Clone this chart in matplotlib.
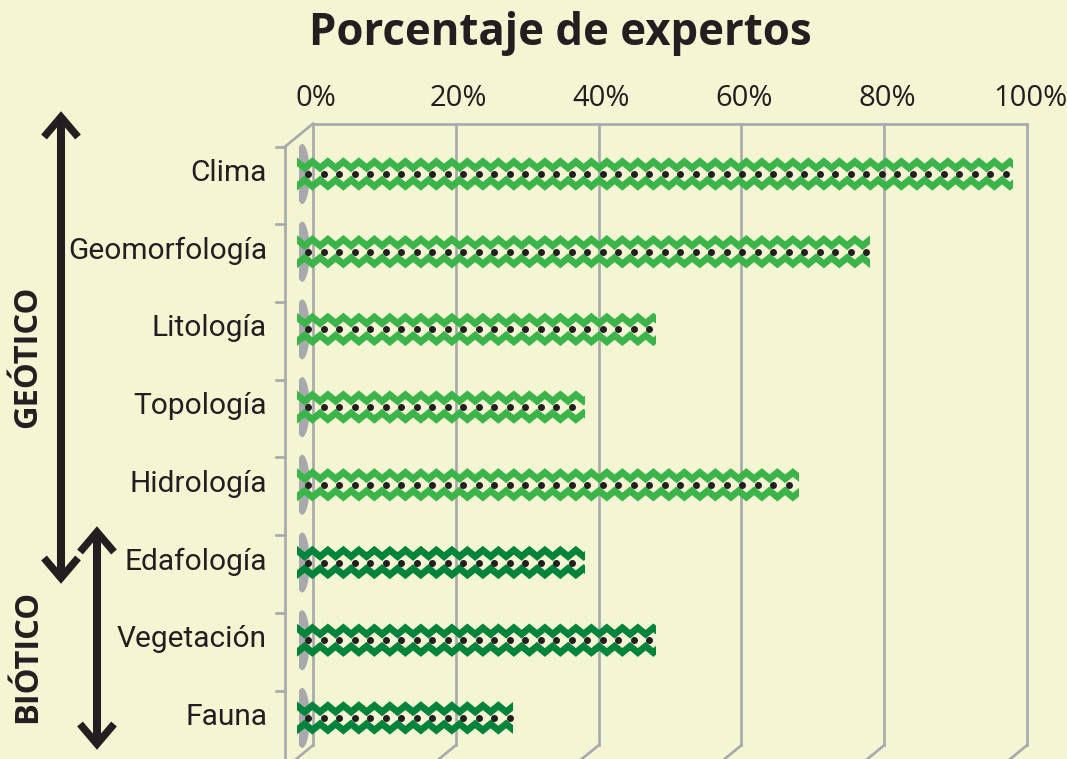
import numpy as np
import matplotlib
matplotlib.use("Agg")
import matplotlib.pyplot as plt
from matplotlib.patches import Ellipse, Rectangle
from matplotlib.transforms import offset_copy

# datos
categorias = ["Clima", "Geomorfología", "Litología", "Topología", "Hidrología",
              "Edafología", "Vegetación", "Fauna"]
porcentajes = [100, 80, 50, 40, 70, 40, 50, 30]
grupo = ["geo", "geo", "geo", "geo", "geo", "bio", "bio", "bio"]
ticks = [0, 20, 40, 60, 80, 100]
tick_labels = ["0%", "20%", "40%", "60%", "80%", "100%"]

BG = "#f4f5d3"
GRIS = "#a7a9ac"
TXT = "#231f20"
colores = {"geo": "#3bb54a", "bio": "#00843b"}

W, H = 1067, 759
fig = plt.figure(figsize=(W / 100, H / 100), dpi=100, facecolor=BG)

# eje principal: 0..100 -> px 299..1013 ; categoria i -> px 174 + 77.7 i
PXX = 7.14
PXY = 77.7
y_top = 174 - 0.5 * PXY
y_bot = 174 + 7.5 * PXY
ax = fig.add_axes([299 / W, (H - y_bot) / H, 714 / W, (y_bot - y_top) / H])
ax.set_xlim(0, 100)
ax.set_ylim(7.5, -0.5)
ax.axis("off")
ax.patch.set_visible(False)

# plano trasero / delantero (efecto 3D)
back = offset_copy(ax.transData, fig, x=14, y=11.5, units="dots")
front = offset_copy(ax.transData, fig, x=-14, y=-11.5, units="dots")
n = len(categorias)
lw_grid = 1.9
for t in ticks:
    ax.plot([t, t], [-0.5, n - 0.5], color=GRIS, lw=lw_grid, transform=back, clip_on=False, zorder=1)
ax.plot([0, 100], [-0.5, -0.5], color=GRIS, lw=lw_grid, transform=back, clip_on=False, zorder=1)
# suelo
for t in ticks:
    xb = ax.transData.transform((t, n - 0.5)) + np.array([14, 11.5])
    xf = ax.transData.transform((t, n - 0.5)) + np.array([-14, -11.5])
    ax.plot(*fig.transFigure.inverted().transform([xb, xf]).T, color=GRIS, lw=lw_grid,
            transform=fig.transFigure, clip_on=False, zorder=1)
# pared izquierda
ax.plot([0, 0], [-0.5, n - 0.5], color=GRIS, lw=lw_grid, transform=front, clip_on=False, zorder=1)
p1 = ax.transData.transform((0, -0.5)) + np.array([14, 11.5])
p2 = ax.transData.transform((0, -0.5)) + np.array([-14, -11.5])
ax.plot(*fig.transFigure.inverted().transform([p1, p2]).T, color=GRIS, lw=lw_grid,
        transform=fig.transFigure, clip_on=False, zorder=1)
marca = offset_copy(ax.transData, fig, x=-23, y=-11.5, units="dots")
for k in range(n + 1):
    ax.plot([0, 9 / PXX], [k - 0.5, k - 0.5], color=GRIS, lw=lw_grid, transform=marca,
            clip_on=False, zorder=1)

# etiquetas de ticks arriba
tick_tr = offset_copy(ax.transData, fig, x=17, y=11.5 + 25, units="dots")
for t, lab in zip(ticks, tick_labels):
    ax.text(t, -0.5, lab, transform=tick_tr, ha="center", va="center", fontsize=21,
            color=TXT, family=["Open Sans", "DejaVu Sans"])

# etiquetas de categorias
cat_tr = offset_copy(ax.transData, fig, x=-32, y=1, units="dots")
for i, c in enumerate(categorias):
    ax.text(0, i, c, transform=cat_tr, ha="right", va="center", fontsize=21.5,
            color=TXT, family=["Roboto", "DejaVu Sans"])

# barras en zigzag
P = 15.5 / PXX
x0 = -0.3
for i, (v, g) in enumerate(zip(porcentajes, grupo)):
    col = colores[g]
    ax.add_patch(Ellipse((0.45, i), 15 / PXX, 60 / PXY, color=GRIS, zorder=2, lw=0))
    clip = Rectangle((x0, i - 0.3), v - x0, 0.6, transform=ax.transData, visible=False)
    ax.add_patch(clip)
    xs = np.arange(x0 - P, v + P, P / 2)
    k = np.arange(len(xs))
    off = np.where(k % 2 == 0, 12.3, 6.0) / PXY
    for sgn in (-1, 1):
        ln, = ax.plot(xs, i + sgn * off, color=col, lw=4.9, solid_joinstyle="miter",
                      zorder=3)
        ln.set_clip_path(clip)
    xd = np.arange(x0 - P + 0.75 * P, v - 0.3, P)
    xd = xd[xd > x0]
    ax.plot(xd, np.full(len(xd), i), ls="none", marker="o", ms=4.0, color=TXT, zorder=4,
            clip_on=False)

# capa de pixeles para flechas y textos laterales
ov = fig.add_axes([0, 0, 1, 1])
ov.set_xlim(0, W)
ov.set_ylim(H, 0)
ov.axis("off")
ov.patch.set_visible(False)


def flecha(x, y1, y2):
    ov.plot([x, x], [y1 + 3, y2 - 3], color=TXT, lw=5.8, solid_capstyle="butt")
    for yt, s in ((y1, 1), (y2, -1)):
        ov.plot([x - 17, x, x + 17], [yt + s * 24, yt + 4 * s, yt + s * 24], color=TXT,
                lw=5.4, solid_joinstyle="miter", solid_capstyle="butt")


flecha(61, 113, 582)
flecha(97, 528, 748)

ov.text(28, 357, "GEÓTICO", rotation=90, ha="center", va="center", fontsize=23.5,
        fontweight="bold", color=TXT, family=["Open Sans", "DejaVu Sans"])
ov.text(28, 656, "BIÓTICO", rotation=90, ha="center", va="center", fontsize=23.5,
        fontweight="bold", color=TXT, family=["Open Sans", "DejaVu Sans"])

fig.text(560 / W, 1 - 34 / H, "Porcentaje de expertos", ha="center", va="center",
         fontsize=31.5, fontweight="bold", color=TXT, family=["Open Sans", "DejaVu Sans"])

fig.savefig("out.png", dpi=100, facecolor=BG)
